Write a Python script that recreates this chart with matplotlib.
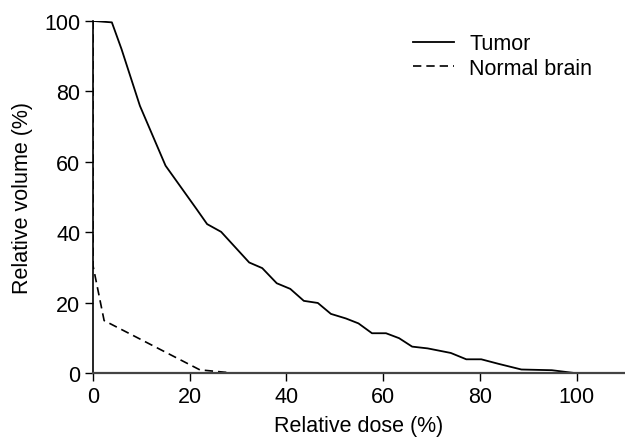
import matplotlib
matplotlib.use("Agg")
import matplotlib.pyplot as plt

# Dose-volume histogram values
tumor_dose = [0, 3.9, 5.9, 9.7, 15.0, 21.4, 23.6, 26.5, 32.3, 35.0, 38.0, 40.8, 43.6,
              46.5, 49.2, 52.3, 54.9, 57.7, 60.6, 63.3, 66.0, 69.2, 74.0, 77.2, 80.3,
              83.9, 88.6, 94.9, 99.6]
tumor_vol = [100, 99.6, 92, 75.9, 58.9, 46.6, 42.3, 40.1, 31.4, 29.8, 25.5, 23.9, 20.5,
             19.9, 16.8, 15.5, 14.1, 11.3, 11.3, 9.9, 7.5, 7.0, 5.7, 3.9, 3.9,
             2.6, 1.0, 0.8, 0]
brain_dose = [0, 0, 2.3, 22.1, 29.0]
brain_vol = [100, 30.5, 14.9, 0.9, 0]

plt.rcParams['font.family'] = ['Liberation Sans', 'DejaVu Sans']
fs = 15.5

fig = plt.figure(figsize=(6.25, 4.39), dpi=100)
ax = fig.add_axes([0.1488, 0.148, 0.851, 0.802])

ax.plot(tumor_dose, tumor_vol, color='black', lw=1.3, label='Tumor')
ax.plot(brain_dose, brain_vol, color='black', lw=1.2, dashes=(5, 3), label='Normal brain')

ax.set_xlim(0, 110)
ax.set_ylim(0, 100)
ax.set_xticks([0, 20, 40, 60, 80, 100])
ax.set_yticks([0, 20, 40, 60, 80, 100])
ax.tick_params(labelsize=fs, length=6, width=1, direction='out', pad=3)

for s in ['top', 'right']:
    ax.spines[s].set_visible(False)
ax.spines['bottom'].set_color('#444444')
ax.spines['bottom'].set_linewidth(1.6)
ax.spines['left'].set_linewidth(1.2)
ax.spines['left'].set_color('black')

ax.set_xlabel('Relative dose (%)', fontsize=fs, labelpad=6)
ax.set_ylabel('Relative volume (%)', fontsize=fs, labelpad=8)

ax.legend(loc='upper right', bbox_to_anchor=(0.975, 1.02), frameon=False, fontsize=fs,
          handlelength=1.9, handletextpad=0.7, labelspacing=0.15)

fig.savefig('out.png', dpi=100)
